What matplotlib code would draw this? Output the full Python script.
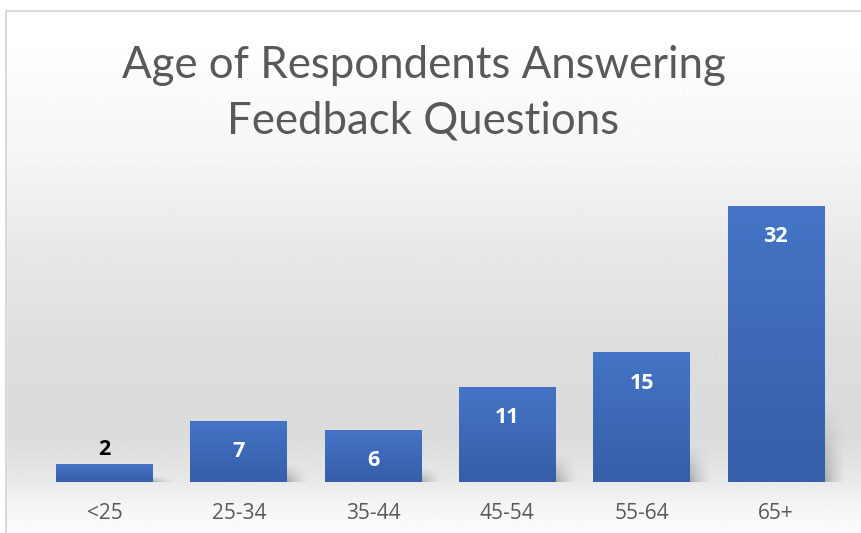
import numpy as np
import matplotlib
matplotlib.use("Agg")
import matplotlib.pyplot as plt
from matplotlib.colors import LinearSegmentedColormap
from matplotlib.patches import Rectangle

# data
age_groups = ["<25", "25-34", "35-44", "45-54", "55-64", "65+"]
respondents = [2, 7, 6, 11, 15, 32]
title = "Age of Respondents Answering\nFeedback Questions"

GREY_TEXT = "#595959"
BAR_TOP = "#4574c6"
BAR_BOTTOM = "#365ea9"


def main() -> None:
    fig = plt.figure(figsize=(8.62, 5.33), dpi=100)

    # chart-area background: soft vertical grey gradient + thin border
    bg = fig.add_axes([0, 0, 1, 1], zorder=-10)
    stops = [(0.0, 255), (0.06, 255), (0.28, 246), (0.47, 232), (0.66, 221),
             (0.82, 219), (0.90, 232), (0.95, 245), (1.0, 252)]
    ys = np.linspace(0, 1, 400)
    vals = np.interp(ys, [s[0] for s in stops], [s[1] for s in stops]) / 255.0
    grad = np.repeat(vals[:, None], 2, axis=1)
    bg.imshow(grad, cmap="gray", vmin=0, vmax=1, aspect="auto",
              extent=[0, 1, 0, 1], origin="upper")
    bg.set_xlim(0, 1)
    bg.set_ylim(0, 1)
    bg.axis("off")
    # white outside the border on top/left
    bg.add_patch(Rectangle((0, 1 - 10 / 533), 1, 10 / 533, color="white", zorder=2))
    bg.add_patch(Rectangle((0, 0), 6 / 862, 1, color="white", zorder=2))
    bg.plot([6.5 / 862, 6.5 / 862, 1], [0, 1 - 10.5 / 533, 1 - 10.5 / 533],
            color="#d9d9d9", lw=1.5, zorder=3)

    ax = fig.add_axes([37.4 / 862, 51 / 533, 805.6 / 862, 301 / 533])
    ax.patch.set_alpha(0)
    x = np.arange(len(age_groups))
    bars = ax.bar(x, respondents, width=0.72, color=BAR_TOP, zorder=3)
    ax.set_xlim(-0.5, len(age_groups) - 0.5)
    ax.set_ylim(0, 35)

    cmap = LinearSegmentedColormap.from_list("bar", [BAR_BOTTOM, BAR_TOP])
    shadow_cmap = LinearSegmentedColormap.from_list(
        "shadow", [(0.45, 0.45, 0.45, 0.0), (0.45, 0.45, 0.45, 0.55)])
    for b in bars:
        x0, w, h = b.get_x(), b.get_width(), b.get_height()
        # gradient fill
        ax.imshow(np.linspace(0, 1, 100)[:, None], cmap=cmap, aspect="auto",
                  extent=[x0, x0 + w, 0, h], origin="lower", zorder=4)
        # soft perspective shadow to the right of the bar
        sw, sh = 0.17, h * 0.3
        gx = np.linspace(1, 0, 60)[None, :]
        gy = np.linspace(1, 0, 60)[:, None]
        shade = (gx ** 1.5) * (gy ** 1.2)
        ax.imshow(shade, cmap=shadow_cmap, vmin=0, vmax=1, aspect="auto",
                  extent=[x0 + w, x0 + w + sw, 0, sh], origin="lower",
                  interpolation="bilinear", zorder=2)

    for xi, v in zip(x, respondents):
        if v < 3:
            ax.text(xi, v + 1.8, str(v), ha="center", va="center",
                    fontsize=15.5, fontweight="bold", color="black",
                    family="Open Sans", zorder=5)
        else:
            ax.text(xi, v - 3.5, str(v), ha="center", va="center",
                    fontsize=15.5, fontweight="bold", color="white",
                    family="Open Sans", zorder=5)

    ax.set_xticks(x)
    ax.set_xticklabels(age_groups, fontsize=15, color=GREY_TEXT, family="Open Sans")
    ax.tick_params(axis="x", length=0, pad=15)
    ax.set_yticks([])
    for s in ax.spines.values():
        s.set_visible(False)

    fig.text(423.5 / 862, 1 - 93 / 533, title, ha="center", va="center",
             fontsize=31.5, color=GREY_TEXT, family="Lato", linespacing=1.45)

    fig.savefig("out.png", dpi=100)
    plt.close(fig)


if __name__ == "__main__":
    main()
